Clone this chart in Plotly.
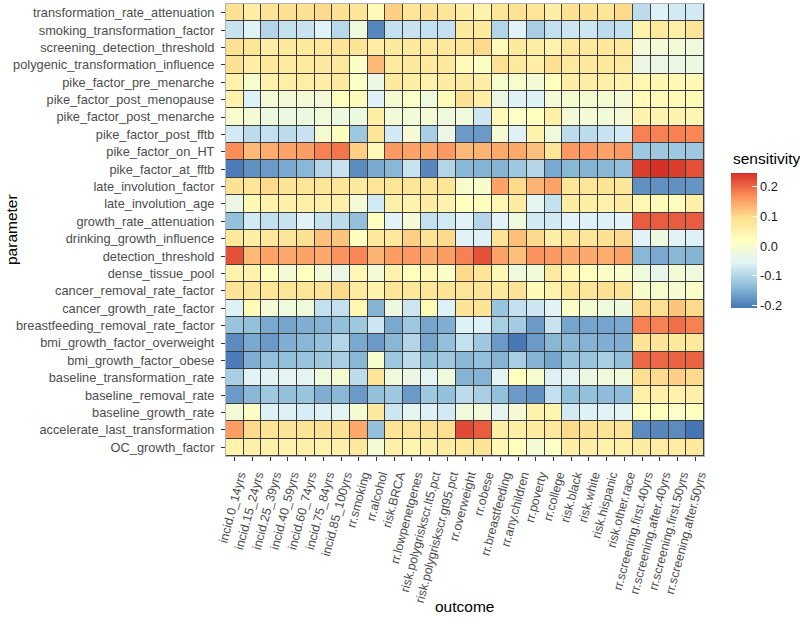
import plotly.graph_objects as go

parameters = [
    "transformation_rate_attenuation", "smoking_transformation_factor",
    "screening_detection_threshold", "polygenic_transformation_influence",
    "pike_factor_pre_menarche", "pike_factor_post_menopause",
    "pike_factor_post_menarche", "pike_factor_post_fftb", "pike_factor_on_HT",
    "pike_factor_at_fftb", "late_involution_factor", "late_involution_age",
    "growth_rate_attenuation", "drinking_growth_influence", "detection_threshold",
    "dense_tissue_pool", "cancer_removal_rate_factor", "cancer_growth_rate_factor",
    "breastfeeding_removal_rate_factor", "bmi_growth_factor_overweight",
    "bmi_growth_factor_obese", "baseline_transformation_rate",
    "baseline_removal_rate", "baseline_growth_rate",
    "accelerate_last_transformation", "OC_growth_factor",
]

outcomes = [
    "incid.0_14yrs", "incid.15_24yrs", "incid.25_39yrs", "incid.40_59yrs",
    "incid.60_74yrs", "incid.75_84yrs", "incid.85_100yrs", "rr.smoking",
    "rr.alcohol", "risk.BRCA", "rr.lowpenetgenes", "risk.polygriskscr.lt5.pct",
    "risk.polygriskscr.gt95.pct", "rr.overweight", "rr.obese", "rr.breastfeeding",
    "rr.any.children", "rr.poverty", "rr.college", "risk.black", "risk.white",
    "risk.hispanic", "risk.other.race", "rr.screening.first.40yrs",
    "rr.screening.after.40yrs", "rr.screening.first.50yrs",
    "rr.screening.after.50yrs",
]

transformation_rate_attenuation = [0.09, 0.06, 0.085, 0.095, 0.09, 0.10, 0.09, 0.08, 0.03, 0.11, 0.08, 0.09, 0.08, 0.06, 0.05, 0.08, 0.09, 0.085, 0.06, 0.09, 0.09, 0.08, 0.10, -0.09, -0.06, -0.07, -0.07]
smoking_transformation_factor = [-0.08, -0.055, -0.10, -0.085, -0.08, -0.055, -0.095, -0.02, -0.19, -0.085, -0.08, -0.085, -0.085, 0.07, 0.07, -0.10, -0.055, -0.11, -0.085, -0.075, -0.075, -0.09, -0.085, 0.05, 0.07, 0.06, 0.08]
screening_detection_threshold = [0.09, 0.08, 0.06, 0.07, 0.07, 0.075, 0.085, 0.085, 0.06, 0.07, 0.07, 0.075, 0.075, 0.08, 0.10, 0.03, 0.07, 0.06, 0.05, 0.075, 0.075, 0.075, 0.07, -0.01, -0.01, -0.01, -0.02]
polygenic_transformation_influence = [0.09, 0.06, 0.07, 0.07, 0.07, 0.07, 0.075, 0.01, 0.13, 0.07, 0.07, 0.07, 0.075, 0.03, 0.01, 0.09, 0.07, 0.06, 0.09, 0.07, 0.07, 0.07, 0.07, -0.03, -0.03, -0.03, -0.025]
pike_factor_pre_menarche = [0.05, 0.0, 0.05, 0.06, 0.06, 0.06, 0.07, 0.01, -0.03, 0.07, 0.06, 0.05, 0.065, 0.065, 0.06, 0.0, 0.0, -0.01, 0.02, 0.06, 0.06, 0.055, 0.05, 0.04, 0.04, 0.035, 0.035]
pike_factor_post_menopause = [0.05, -0.06, -0.01, -0.01, -0.01, -0.01, 0.02, 0.03, -0.06, -0.005, 0.01, -0.02, 0.03, 0.09, 0.06, -0.03, -0.06, -0.06, -0.01, -0.005, -0.005, -0.005, -0.01, 0.03, 0.03, 0.03, 0.03]
pike_factor_post_menarche = [0.0, -0.01, -0.025, -0.025, -0.025, -0.015, -0.025, -0.025, 0.06, -0.015, -0.015, -0.01, -0.02, -0.02, -0.075, 0.03, 0.01, 0.02, 0.055, -0.01, -0.01, -0.015, -0.01, 0.045, 0.045, 0.045, 0.04]
pike_factor_post_fftb = [-0.07, -0.09, -0.085, -0.09, -0.08, -0.005, 0.02, -0.12, 0.08, -0.07, -0.01, -0.11, -0.03, -0.17, -0.17, -0.005, -0.06, 0.05, -0.02, -0.09, -0.09, -0.08, -0.07, 0.18, 0.18, 0.18, 0.175]
pike_factor_on_HT = [0.17, 0.13, 0.14, 0.15, 0.155, 0.18, 0.19, 0.11, 0.03, 0.16, 0.15, 0.145, 0.16, 0.13, 0.135, 0.145, 0.145, 0.125, 0.08, 0.16, 0.16, 0.15, 0.16, -0.12, -0.12, -0.12, -0.12]
pike_factor_at_fftb = [-0.2, -0.18, -0.17, -0.155, -0.14, -0.10, -0.08, -0.185, -0.155, -0.14, -0.08, -0.19, -0.10, -0.14, -0.145, -0.145, -0.12, -0.10, -0.155, -0.14, -0.145, -0.14, -0.13, 0.235, 0.246, 0.235, 0.22]
late_involution_factor = [0.09, 0.08, 0.10, 0.085, 0.08, 0.08, 0.08, 0.07, 0.08, 0.08, 0.08, 0.08, 0.08, 0.0, 0.0, 0.15, 0.10, 0.135, 0.15, 0.08, 0.08, 0.085, 0.08, -0.18, -0.18, -0.18, -0.175]
late_involution_age = [-0.03, 0.035, 0.05, 0.055, 0.055, 0.055, 0.055, -0.01, -0.07, 0.055, 0.05, 0.065, 0.05, 0.02, 0.02, 0.035, 0.065, -0.045, -0.085, 0.065, 0.06, 0.05, 0.065, 0.035, 0.03, 0.025, 0.055]
growth_rate_attenuation = [-0.13, -0.07, -0.085, -0.08, -0.055, -0.08, -0.09, -0.13, 0.02, -0.055, -0.01, -0.085, -0.07, -0.055, -0.10, -0.055, -0.02, -0.07, -0.07, -0.055, -0.06, -0.06, -0.055, 0.21, 0.21, 0.21, 0.21]
drinking_growth_influence = [0.075, 0.06, 0.075, 0.08, 0.09, 0.125, 0.12, 0.02, 0.07, 0.075, 0.11, 0.085, 0.10, -0.055, -0.06, 0.085, 0.125, 0.10, 0.06, 0.08, 0.08, 0.09, 0.10, -0.055, -0.025, -0.055, -0.06]
detection_threshold = [0.22, 0.13, 0.15, 0.145, 0.15, 0.145, 0.165, 0.175, 0.135, 0.155, 0.16, 0.145, 0.155, 0.18, 0.22, 0.15, 0.125, 0.165, 0.16, 0.145, 0.145, 0.14, 0.15, -0.14, -0.155, -0.14, -0.145]
dense_tissue_pool = [0.05, 0.05, 0.02, -0.01, 0.02, -0.01, -0.03, 0.035, -0.01, 0.05, 0.02, 0.035, 0.01, 0.10, 0.08, 0.035, -0.02, -0.015, 0.07, 0.035, 0.02, 0.01, 0.005, -0.02, -0.04, -0.01, -0.02]
cancer_removal_rate_factor = [0.085, 0.08, 0.08, 0.08, 0.08, 0.085, 0.10, 0.07, 0.05, 0.08, 0.075, 0.08, 0.085, 0.08, 0.085, 0.07, 0.085, 0.03, 0.05, 0.08, 0.08, 0.09, 0.085, 0.0, 0.0, -0.005, 0.005]
cancer_growth_rate_factor = [-0.06, 0.03, -0.01, -0.02, -0.02, -0.085, -0.085, 0.035, -0.145, -0.025, -0.075, 0.03, -0.06, 0.085, 0.085, -0.125, -0.085, -0.075, -0.055, 0.01, -0.005, -0.02, -0.025, 0.10, 0.095, 0.12, 0.10]
breastfeeding_removal_rate_factor = [-0.125, -0.13, -0.155, -0.16, -0.15, -0.145, -0.13, -0.12, -0.075, -0.155, -0.12, -0.16, -0.15, -0.06, -0.06, -0.11, -0.115, -0.17, -0.08, -0.16, -0.16, -0.16, -0.155, 0.18, 0.18, 0.195, 0.18]
bmi_growth_factor_overweight = [-0.185, -0.155, -0.17, -0.15, -0.14, -0.13, -0.10, -0.155, -0.17, -0.14, -0.10, -0.16, -0.13, -0.085, -0.12, -0.17, -0.205, -0.17, -0.14, -0.14, -0.145, -0.15, -0.15, 0.085, 0.085, 0.075, 0.075]
bmi_growth_factor_obese = [-0.2, -0.15, -0.13, -0.13, -0.125, -0.12, -0.11, -0.14, 0.0, -0.12, -0.09, -0.13, -0.12, -0.14, -0.13, -0.145, -0.11, -0.145, -0.16, -0.125, -0.125, -0.11, -0.13, 0.2, 0.2, 0.205, 0.205]
baseline_transformation_rate = [-0.11, -0.055, -0.055, -0.05, -0.05, -0.02, -0.005, -0.09, 0.08, -0.02, -0.03, -0.05, -0.02, -0.145, -0.145, -0.05, 0.02, 0.0, -0.06, -0.05, -0.03, -0.02, -0.02, 0.095, 0.10, 0.11, 0.10]
baseline_removal_rate = [-0.17, -0.14, -0.12, -0.13, -0.125, -0.15, -0.14, -0.17, -0.13, -0.12, -0.17, -0.12, -0.13, -0.09, -0.11, -0.13, -0.17, -0.18, -0.085, -0.13, -0.13, -0.135, -0.135, 0.055, 0.055, 0.05, 0.055]
baseline_growth_rate = [-0.01, 0.01, -0.06, -0.06, -0.065, -0.06, -0.05, -0.005, 0.07, -0.075, -0.05, -0.06, -0.07, -0.02, -0.015, -0.05, -0.01, 0.05, 0.04, -0.07, -0.06, -0.055, -0.05, 0.02, 0.02, 0.01, 0.02]
accelerate_last_transformation = [0.155, 0.10, 0.085, 0.085, 0.085, 0.09, 0.09, 0.145, -0.13, 0.085, 0.085, 0.09, 0.095, 0.225, 0.21, 0.06, 0.06, 0.065, 0.075, 0.10, 0.09, 0.085, 0.085, -0.185, -0.19, -0.185, -0.208]
OC_growth_factor = [0.05, 0.055, 0.055, 0.05, 0.055, 0.05, 0.055, 0.075, -0.01, 0.055, 0.04, 0.06, 0.065, 0.075, 0.085, 0.035, 0.02, -0.01, 0.01, 0.06, 0.06, 0.05, 0.055, 0.065, 0.065, 0.065, 0.075]

z = [
    transformation_rate_attenuation, smoking_transformation_factor,
    screening_detection_threshold, polygenic_transformation_influence,
    pike_factor_pre_menarche, pike_factor_post_menopause,
    pike_factor_post_menarche, pike_factor_post_fftb, pike_factor_on_HT,
    pike_factor_at_fftb, late_involution_factor, late_involution_age,
    growth_rate_attenuation, drinking_growth_influence, detection_threshold,
    dense_tissue_pool, cancer_removal_rate_factor, cancer_growth_rate_factor,
    breastfeeding_removal_rate_factor, bmi_growth_factor_overweight,
    bmi_growth_factor_obese, baseline_transformation_rate,
    baseline_removal_rate, baseline_growth_rate,
    accelerate_last_transformation, OC_growth_factor,
]

legend_ticks = [-0.2, -0.1, 0.0, 0.1, 0.2]
legend_ticktext = ["-0.2", "-0.1", "0.0", "0.1", "0.2"]

colorscale = [
    [0.0, "#4575b4"], [1 / 6, "#91bfdb"], [2 / 6, "#e0f3f8"], [0.5, "#ffffbf"],
    [4 / 6, "#fee090"], [5 / 6, "#fc8d59"], [1.0, "#d73027"],
]

FONT = "Liberation Sans, Arial, sans-serif"
W, H = 800, 619
L, R, T, B = 226, 96, 4, 163
PW = W - L - R
PH = H - T - B

fig = go.Figure(go.Heatmap(
    z=z, x=outcomes, y=parameters,
    colorscale=colorscale, zmin=-0.208, zmax=0.246,
    xgap=1, ygap=1,
    colorbar=dict(
        tickvals=legend_ticks, ticktext=legend_ticktext,
        tickfont=dict(family=FONT, size=12.8, color="#1a1a1a"),
        ticks="inside", tickcolor="white", ticklen=5, tickwidth=1,
        outlinewidth=0,
        thicknessmode="pixels", thickness=26,
        lenmode="pixels", len=135,
        xanchor="left", x=(731 - L) / PW, xpad=0,
        yanchor="middle", y=(T + PH - 240.5) / PH, ypad=0,
    ),
    hovertemplate="%{y}<br>%{x}<br>%{z}<extra></extra>",
))

fig.update_layout(
    width=W, height=H,
    margin=dict(l=L, r=R, t=T, b=B, autoexpand=False),
    paper_bgcolor="white",
    plot_bgcolor="#3c3c3c",
    font=dict(family=FONT),
    xaxis=dict(
        automargin=False,
        tickangle=-75, tickfont=dict(family=FONT, size=12.4, color="#4d4d4d"),
        ticks="outside", ticklen=4, tickcolor="#333", tickwidth=1,
        ticklabelshift=5, ticklabelstandoff=2,
        showgrid=False, zeroline=False,
        showline=True, linecolor="#b5b5b5", linewidth=1, mirror=True,
    ),
    yaxis=dict(
        automargin=False,
        autorange="reversed",
        tickfont=dict(family=FONT, size=12.8, color="#4d4d4d"),
        ticks="outside", ticklen=4, tickcolor="#333", tickwidth=1,
        ticklabelstandoff=4,
        showgrid=False, zeroline=False,
        showline=True, linecolor="#b5b5b5", linewidth=1, mirror=True,
    ),
    annotations=[
        dict(text="parameter", xref="paper", yref="paper",
             x=(11 - L) / PW, y=0.5, textangle=-90, showarrow=False,
             font=dict(family=FONT, size=15.5, color="#000"),
             xanchor="center", yanchor="middle"),
        dict(text="outcome", xref="paper", yref="paper",
             x=(464 - L) / PW, y=-(606 - (T + PH)) / PH, showarrow=False,
             font=dict(family=FONT, size=15.5, color="#000"),
             xanchor="center", yanchor="middle"),
        dict(text="sensitivity", xref="paper", yref="paper",
             x=(731 - L) / PW, y=(T + PH - 158) / PH, showarrow=False,
             font=dict(family=FONT, size=15.5, color="#000"),
             xanchor="left", yanchor="middle"),
    ],
)

fig.write_html(
    "out.html",
    config={"displayModeBar": False},
    post_script="document.body.style.margin='0';document.body.style.overflow='hidden';",
)
